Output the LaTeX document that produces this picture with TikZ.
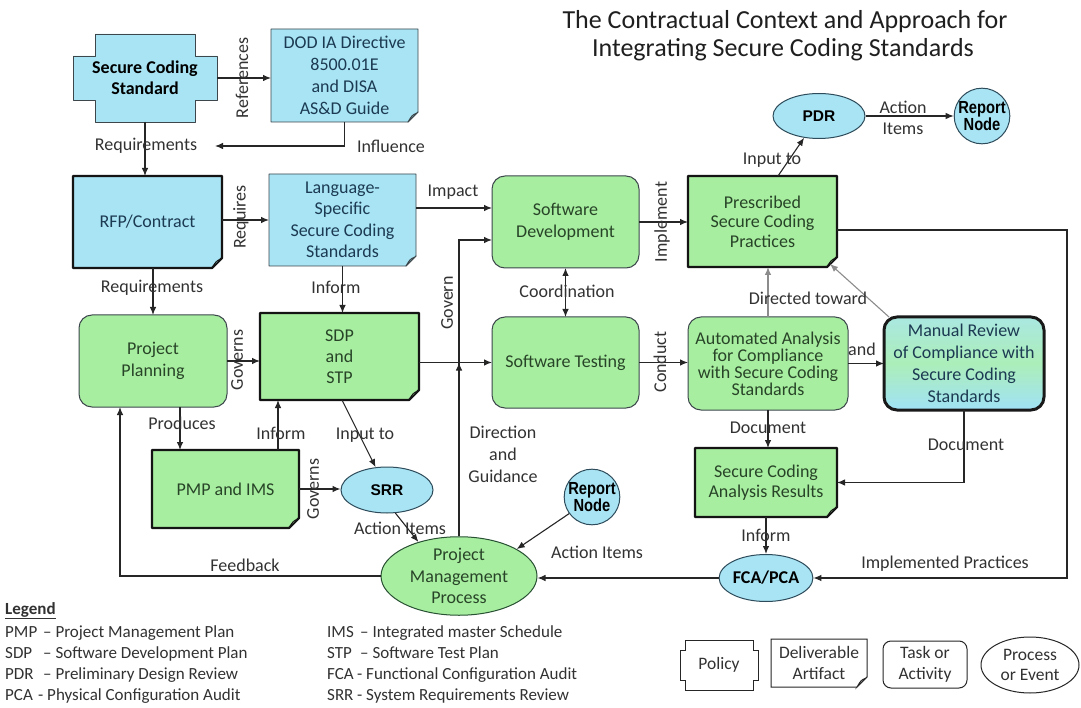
\documentclass[tikz,border=0pt]{standalone}
\usepackage{fontspec}
\setmainfont{Carlito}
\newfontfamily\arialf{Liberation Sans}
\usetikzlibrary{arrows.meta,shapes.geometric,backgrounds}

\definecolor{bfill}{RGB}{168,228,244}
\definecolor{gfill}{RGB}{168,238,160}
\definecolor{gtext}{RGB}{40,68,40}
\definecolor{btext}{RGB}{28,58,82}
\definecolor{ltext}{RGB}{50,50,50}
\definecolor{thinc}{RGB}{60,70,75}
\definecolor{ellc}{RGB}{45,75,90}
\definecolor{pmpc}{RGB}{40,80,50}
\definecolor{mrtop}{RGB}{170,232,225}
\definecolor{mrmid}{RGB}{172,238,185}
\definecolor{mrbot}{RGB}{160,226,246}

% deliverable (note with folded corner): node name, fill, border style
\newcommand\dlvshape[3]{%
 \path[#3, fill=#2] (#1.north west) -- (#1.north east) -- ([yshift=10pt]#1.south east) -- ([xshift=-10pt]#1.south east) -- (#1.south west) -- cycle;
 \path[#3, fill=#2!70!black, line width=0.8pt] ([yshift=10pt]#1.south east) -- ([xshift=-10pt]#1.south east) .. controls ([xshift=-6pt,yshift=7pt]#1.south east) .. ([xshift=-1pt,yshift=9pt]#1.south east) -- cycle;
}
% policy (notched) shape: node name, style, x inset, y inset
\newcommand\polshape[4]{%
 \path[#2] ([xshift=#3]#1.north west) -- ([xshift=-#3]#1.north east) -- ([xshift=-#3,yshift=-#4]#1.north east) -- ([yshift=-#4]#1.north east) -- ([yshift=#4]#1.south east) -- ([xshift=-#3,yshift=#4]#1.south east) -- ([xshift=-#3]#1.south east) -- ([xshift=#3]#1.south west) -- ([xshift=#3,yshift=#4]#1.south west) -- ([yshift=#4]#1.south west) -- ([yshift=-#4]#1.north west) -- ([xshift=#3,yshift=-#4]#1.north west) -- cycle;}

\tikzset{
 holder/.style={inner sep=0pt, outer sep=0pt, align=center, font=\fontsize{18}{21.5}\selectfont},
 gt/.style={text=gtext},
 bt/.style={text=btext},
 lbl/.style={inner sep=0pt, text=ltext, align=center, font=\fontsize{18}{21.5}\selectfont},
 conn/.style={draw=black!85, line width=1.1pt, -{Latex[length=8pt,width=6.5pt]}},
 gconn/.style={conn, draw=black!45},
 thickb/.style={draw=black!92, line width=2.4pt, line join=round},
 thinb/.style={draw=thinc, line width=0.9pt, line join=round},
 taskbox/.style={holder, rounded corners=13pt, fill=gfill, draw=thinc, line width=1pt, text=gtext},
 procb/.style={ellipse, inner sep=0pt, fill=bfill, draw=ellc, line width=1pt, align=center, text=black, font=\arialf\bfseries\fontsize{15.5}{16}\selectfont},
 rnode/.style={circle, inner sep=0pt, fill=bfill, draw=ellc, line width=1pt, minimum size=50pt, align=center, text=black, font=\arialf\bfseries\fontsize{17.5}{15}\selectfont},
 titlef/.style={inner sep=0pt, text=black!88, font=\fontsize{26}{28}\selectfont},
 lgd/.style={inner sep=0pt, anchor=base west, text=ltext, font=\fontsize{17}{20}\selectfont},
 lgshape/.style={holder, text=ltext, font=\fontsize{17.5}{20.5}\selectfont}
}

\begin{document}
\begin{tikzpicture}[x=1pt,y=-1pt]
\useasboundingbox (0,0) rectangle (1081,708);
\begin{pgfonlayer}{background}
\fill[white] (0,0) rectangle (1081,708);
\end{pgfonlayer}

% ---------- title ----------
\node[titlef, anchor=base] (t1) at (785,29) {The Contractual Context and Approach for};
\node[titlef, anchor=base] (t2) at (783,57) {Integrating Secure Coding Standards};

% ---------- nodes ----------
\node[holder, minimum width=144pt, minimum height=88pt, text=black, font=\bfseries\fontsize{18}{21}\selectfont] (scs) at (145,78) {Secure Coding\\Standard};
\node[holder, bt, minimum width=147pt, minimum height=93pt, font=\fontsize{18}{22}\selectfont] (dod) at (344.5,75.5) {DOD IA Directive\\8500.01E\\and DISA\\AS\&D Guide};
\node[holder, bt, minimum width=149pt, minimum height=92pt] (rfp) at (147.5,222) {RFP/Contract};
\node[holder, bt, minimum width=147pt, minimum height=92pt] (lang) at (342.5,220) {Language-\\Specific\\Secure Coding\\Standards};
\node[taskbox, minimum width=148pt, minimum height=92pt] (pp) at (153,361) {Project\\Planning};
\node[holder, gt, minimum width=159pt, minimum height=87pt, font=\fontsize{18}{21}\selectfont] (sdp) at (339.5,356.5) {SDP\\and\\STP};
\node[taskbox, minimum width=147pt, minimum height=92pt] (sd) at (565.5,222) {Software\\Development};
\node[taskbox, minimum width=147pt, minimum height=91pt] (st) at (565.5,362.5) {Software Testing};
\node[holder, gt, minimum width=149pt, minimum height=91pt, font=\fontsize{18}{19.5}\selectfont] (psc) at (762.5,221.5) {Prescribed\\Secure Coding\\Practices};
\node[taskbox, minimum width=160pt, minimum height=93pt, font=\fontsize{18}{17}\selectfont] (aa) at (768,363.5) {Automated Analysis\\for Compliance\\with Secure Coding\\Standards};
\node[holder, rounded corners=13pt, draw=black!90, line width=3pt, top color=mrtop, bottom color=mrbot, middle color=mrmid, text=btext, minimum width=160pt, minimum height=93pt, font=\fontsize{18}{22}\selectfont] (mr) at (964,363.5) {Manual Review\\of Compliance with\\Secure Coding\\Standards};
\node[holder, gt, minimum width=142pt, minimum height=69pt, font=\fontsize{18}{20}\selectfont] (scar) at (766,482.5) {Secure Coding\\Analysis Results};
\node[holder, gt, minimum width=147pt, minimum height=78pt] (pmpb) at (225.5,489) {PMP and IMS};
\node[procb, minimum width=92pt, minimum height=46pt] (srr) at (387,490) {SRR};
\node[procb, fill=gfill, draw=pmpc, text=gtext, minimum width=156pt, minimum height=68pt, font=\fontsize{18}{21.5}\selectfont] (pmpe) at (459,576) {Project\\Management\\Process};
\node[rnode] (rn2) at (592,497) {\scalebox{0.84}[1]{Report}\\\scalebox{0.84}[1]{Node}};
\node[procb, minimum width=93pt, minimum height=47pt, font=\bfseries\fontsize{18}{20}\selectfont] (fca) at (766,578) {FCA/PCA};
\node[procb, minimum width=92pt, minimum height=45pt] (pdr) at (819,116) {PDR};
\node[rnode] (rn1) at (982,116) {\scalebox{0.84}[1]{Report}\\\scalebox{0.84}[1]{Node}};

% ---------- background shapes ----------
\begin{pgfonlayer}{background}
\polshape{scs}{fill=bfill, thinb}{22pt}{22pt}
\dlvshape{dod}{bfill}{thinb}
\dlvshape{rfp}{bfill}{thickb}
\dlvshape{lang}{bfill}{thinb}
\dlvshape{sdp}{gfill}{thickb}
\dlvshape{psc}{gfill}{thickb}
\dlvshape{scar}{gfill}{thickb}
\dlvshape{pmpb}{gfill}{thickb}
\end{pgfonlayer}

% ---------- connectors ----------
\coordinate (inflend) at (215,146);
\coordinate (imp) at (450,208);
\coordinate (gov) at (459,240);
\coordinate (fb) at (120,576);
\coordinate (prodx) at (180,0);
\coordinate (infx) at (278,0);
\coordinate (ip1) at (1067,230);
\coordinate (ip2) at (1067,578);

\draw[conn] (scs.south) -- (scs.south |- rfp.north);
\draw[conn] (scs.east) -- (scs.east -| dod.west);
\draw[conn] (dod.south) -- (dod.south |- inflend) -- (inflend);
\draw[conn] (rfp.east |- lang.west) -- (lang.west);
\draw[conn] (lang.east |- imp) -- (imp -| sd.west);
\draw[conn] (pp.north |- rfp.south) -- (pp.north);
\draw[conn] (pp.east) -- (pp.east -| sdp.west);
\draw[conn] (lang.south) -- (lang.south |- sdp.north);
\draw[conn] (sdp.east |- st.west) -- (st.west);
\draw[conn] (pmpe.north) -- (gov) -- (gov -| sd.west);
\draw[conn] ([yshift=-10pt]pmpe.north |- st.west) -- (pmpe.north |- st.west);
\draw[conn, {Latex[length=8pt,width=6.5pt]}-{Latex[length=8pt,width=6.5pt]}] (sd.south) -- (st.north);
\draw[conn] (sd.east) -- (sd.east -| psc.west);
\draw[conn] (st.east) -- (st.east -| aa.west);
\draw[conn] ([xshift=90pt]psc.north west) -- (pdr);
\draw[conn] (pdr.east) -- (rn1.west);
\draw[gconn] (aa.north) -- (aa.north |- psc.south);
\draw[gconn] ([xshift=5pt]mr.north west) -- ([xshift=-7pt,yshift=3pt]psc.south east);
\draw[conn] (aa.east) -- (aa.east -| mr.west);
\draw[conn] (aa.south) -- (aa.south |- scar.north);
\draw[conn] (mr.south) -- (mr.south |- scar.east) -- (scar.east);
\draw[conn] (scar.south) -- (fca.north);
\draw[conn] (psc.east |- ip1) -- (ip1) -- (ip2) -- (fca.east);
\draw[conn] (fca.west) -- (pmpe.east |- fca.west);
\draw[conn] ([xshift=2.5pt]sdp.south) -- (srr);
\draw[conn] (pmpb.east) -- (pmpb.east -| srr.west);
\draw[conn] (srr.290) -- (pmpe.140);
\draw[conn] (rn2.216) -- (pmpe.25);
\draw[conn] (prodx |- pp.south) -- (prodx |- pmpb.north);
\draw[conn] (infx |- pmpb.north) -- (infx |- sdp.south);
\draw[conn] (pmpe.west) -- (fb) -- (fb |- pp.south);

% ---------- connector labels ----------
\node[lbl] (lReq1) at (146,146) {Requirements};
\node[lbl] (lInfl) at (391,146) {Influence};
\node[lbl, rotate=90] (lRef) at (242,78) {References};
\node[lbl, rotate=90] (lRqs) at (241,217) {Requires};
\node[lbl] (lReq2) at (152,288) {Requirements};
\node[lbl] (lInf1) at (336,287) {Inform};
\node[lbl] (lImp) at (453,192) {Impact};
\node[lbl, rotate=90] (lGov) at (447,303) {Govern};
\node[lbl, rotate=90] (lGovs) at (237,360) {Governs};
\node[lbl] (lCoord) at (567,291) {Coordination};
\node[lbl, rotate=90] (lImpl) at (662,222) {Implement};
\node[lbl, rotate=90] (lCond) at (660,362) {Conduct};
\node[lbl] (lInTo) at (772,160) {Input to};
\node[lbl] (lAct) at (903,118) {Action\\Items};
\node[lbl] (lDir) at (808,298) {Directed toward};
\node[lbl] (lAnd) at (862,349) {and};
\node[lbl] (lDoc1) at (768,428) {Document};
\node[lbl] (lDoc2) at (966,445) {Document};
\node[lbl] (lInf3) at (766,535) {Inform};
\node[lbl] (lImpP) at (945,564) {Implemented Practices};
\node[lbl] (lAct2) at (597,552) {Action Items};
\node[lbl, font=\fontsize{18}{22}\selectfont] (lDirG) at (503,454) {Direction\\and\\Guidance};
\node[lbl] (lProd) at (182,423) {Produces};
\node[lbl] (lInf2) at (281,433) {Inform};
\node[lbl] (lInTo2) at (365,435) {Input to};
\node[lbl] (lAct3) at (400,528) {Action Items};
\node[lbl] (lFb) at (245,565) {Feedback};
\node[lbl, rotate=90] (lGovs2) at (313,489) {Governs};

% ---------- legend ----------
\node[lgd, font=\bfseries\fontsize{17}{20}\selectfont] (lg) at (5,614) {\underline{Legend}};
\node[lgd] (a1) at (5,637) {PMP};  \node[lgd] (d1) at (43,637) {– Project Management Plan};
\node[lgd] (a2) at (5,658) {SDP};  \node[lgd] (d2) at (43,658) {– Software Development Plan};
\node[lgd] (a3) at (5,679) {PDR};  \node[lgd] (d3) at (43,679) {– Preliminary Design Review};
\node[lgd] (a4) at (5,700) {PCA};  \node[lgd] (d4) at (38,700) {- Physical Configuration Audit};
\node[lgd] (b1) at (327,637) {IMS}; \node[lgd] (e1) at (360,637) {– Integrated master Schedule};
\node[lgd] (b2) at (327,658) {STP}; \node[lgd] (e2) at (360,658) {– Software Test Plan};
\node[lgd] (b3) at (327,679) {FCA}; \node[lgd] (e3) at (357,679) {- Functional Configuration Audit};
\node[lgd] (b4) at (327,700) {SRR}; \node[lgd] (e4) at (357,700) {- System Requirements Review};

\node[lgshape, minimum width=78pt, minimum height=50pt] (kpol) at (719,665) {Policy};
\node[lgshape, minimum width=96pt, minimum height=48pt] (kdel) at (819,663) {Deliverable\\Artifact};
\node[lgshape, rounded corners=8pt, draw=black!85, line width=1pt, fill=white, minimum width=84pt, minimum height=47pt] (ktask) at (925,664.5) {Task or\\Activity};
\node[lgshape, ellipse, draw=black!85, line width=1pt, fill=white, minimum width=98pt, minimum height=56pt] (kproc) at (1030,665) {Process\\or Event};
\begin{pgfonlayer}{background}
\polshape{kpol}{fill=white, draw=black!85, line width=1pt}{5pt}{10pt}
\dlvshape{kdel}{white}{draw=black!85, line width=1pt}
\end{pgfonlayer}
\end{tikzpicture}
\end{document}
